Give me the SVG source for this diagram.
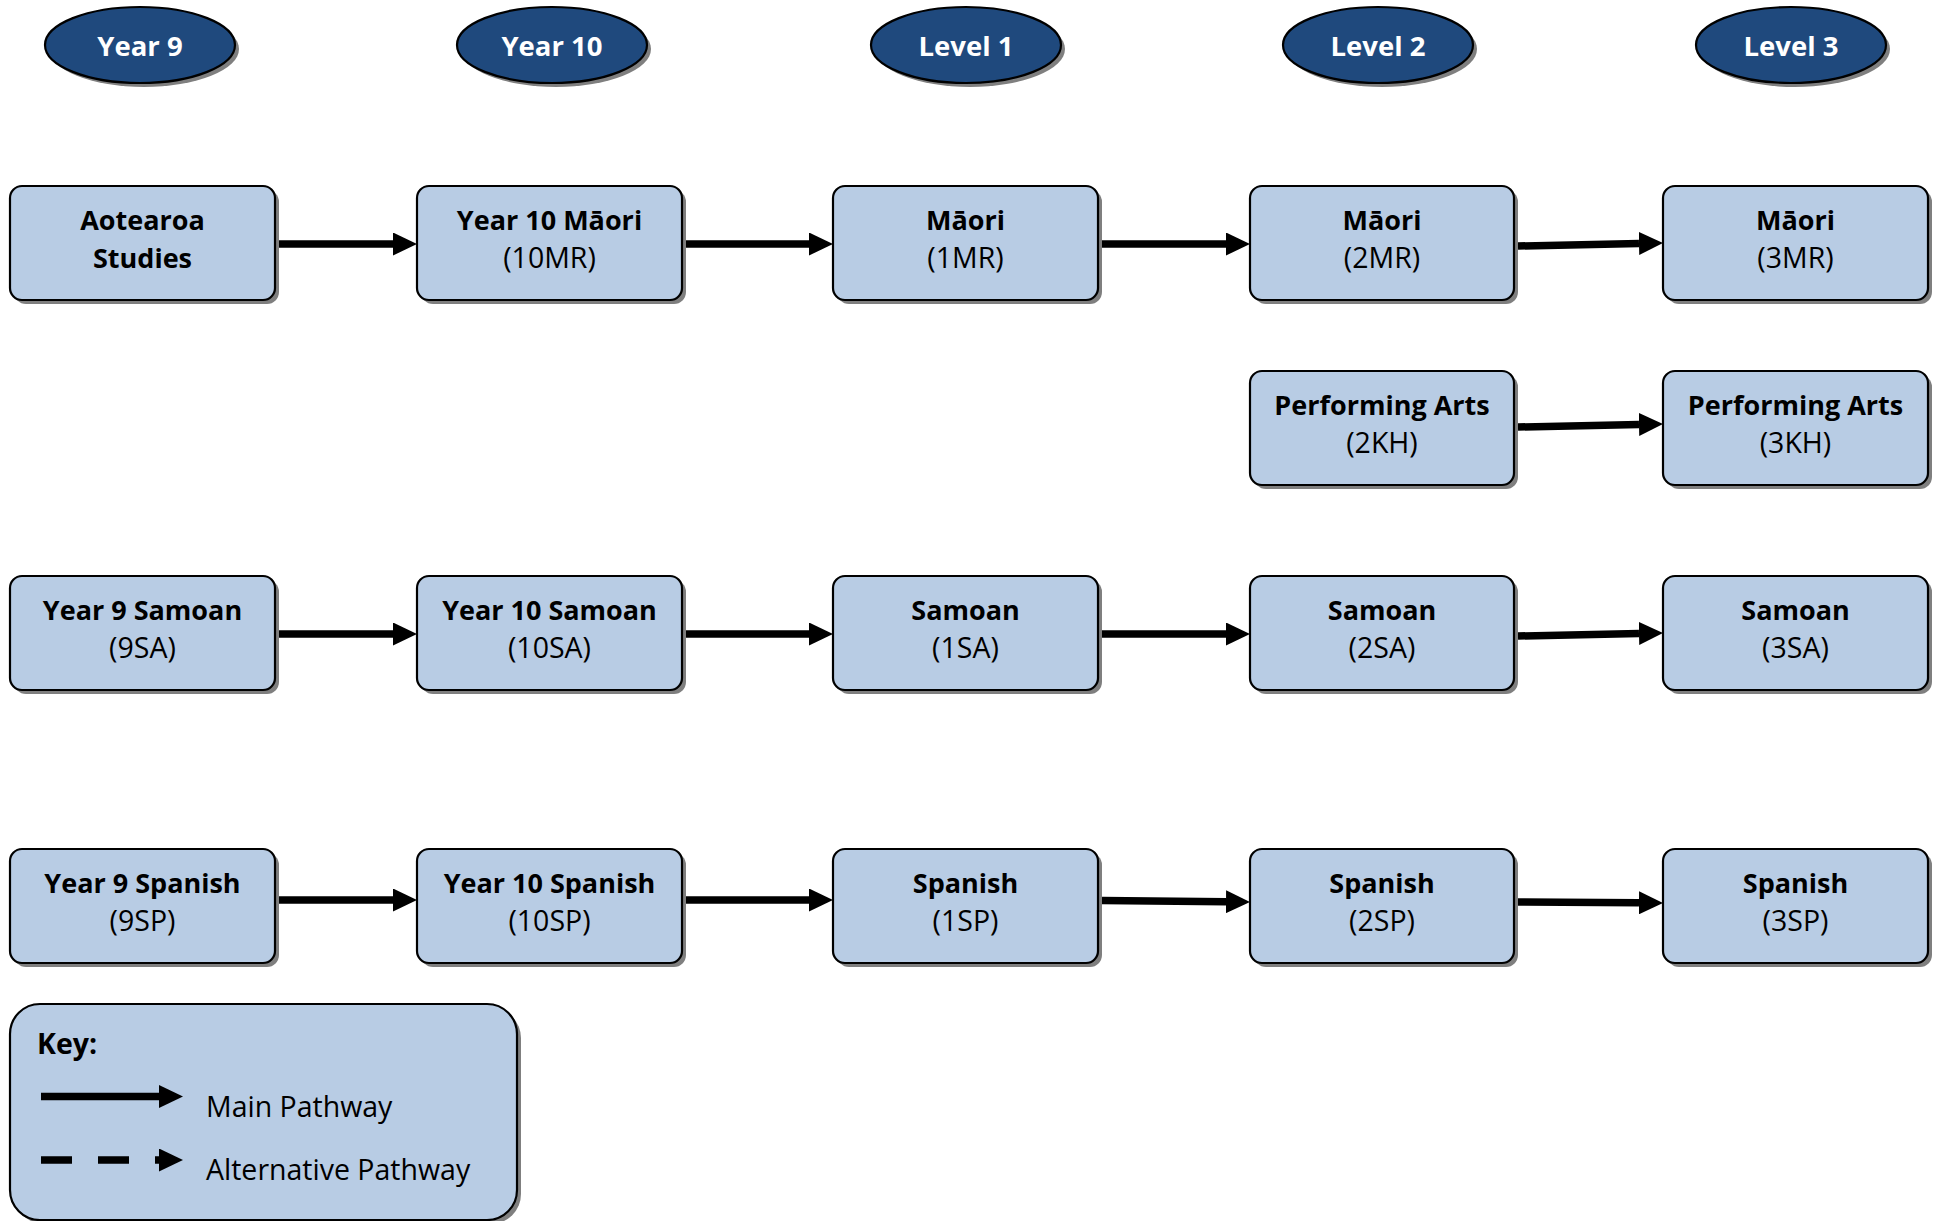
<svg xmlns="http://www.w3.org/2000/svg" width="1941" height="1221" viewBox="0 0 1941 1221">
<style>
  .box { fill: #B8CCE4; stroke: #000; stroke-width: 2.2; }
  .shadow { fill: #7f7f7f; }
  .oval { fill: #1F497D; stroke: #000; stroke-width: 2.2; }
  .t1 { font-family: "Open Sans", "Liberation Sans", sans-serif; font-size: 27px; font-weight: bold; fill: #000; text-anchor: middle; }
  .t2 { font-family: "Open Sans", "Liberation Sans", sans-serif; font-size: 28.5px; fill: #000; text-anchor: middle; }
  .th { font-family: "Open Sans", "Liberation Sans", sans-serif; font-size: 27.5px; font-weight: bold; fill: #fff; text-anchor: middle; }
  .tk { font-family: "Open Sans", "Liberation Sans", sans-serif; font-size: 28.5px; fill: #000; }
  .conn { fill: none; stroke: #000; stroke-width: 7.5; marker-end: url(#arrow); }
</style>
<defs>
  <marker id="arrow" markerUnits="userSpaceOnUse" markerWidth="24" markerHeight="23" refX="0" refY="11.5" orient="auto" viewBox="0 0 24 23">
    <path d="M0,0 L24,11.5 L0,23 z" fill="#000"/>
  </marker>
</defs>
<rect width="1941" height="1221" fill="#fff"/>

<!-- Header ovals -->
<g id="h-year9"><ellipse class="shadow" cx="144" cy="49" rx="95" ry="38"/><ellipse class="oval" cx="140" cy="45" rx="95" ry="38"/><text class="th" x="140" y="56">Year 9</text></g>
<g id="h-year10"><ellipse class="shadow" cx="556" cy="49" rx="95" ry="38"/><ellipse class="oval" cx="552" cy="45" rx="95" ry="38"/><text class="th" x="552" y="56">Year 10</text></g>
<g id="h-level1"><ellipse class="shadow" cx="970" cy="49" rx="95" ry="38"/><ellipse class="oval" cx="966" cy="45" rx="95" ry="38"/><text class="th" x="966" y="56">Level 1</text></g>
<g id="h-level2"><ellipse class="shadow" cx="1382" cy="49" rx="95" ry="38"/><ellipse class="oval" cx="1378" cy="45" rx="95" ry="38"/><text class="th" x="1378" y="56">Level 2</text></g>
<g id="h-level3"><ellipse class="shadow" cx="1795" cy="49" rx="95" ry="38"/><ellipse class="oval" cx="1791" cy="45" rx="95" ry="38"/><text class="th" x="1791" y="56">Level 3</text></g>

<!-- Connectors -->
<g id="connectors">
  <path class="conn" d="M279,244 L393,244"/>
  <path class="conn" d="M686,244 L809,244"/>
  <path class="conn" d="M1102,244 L1226,244"/>
  <path class="conn" d="M1518,246 L1639,243.5"/>
  <path class="conn" d="M1518,427 L1639,424.5"/>
  <path class="conn" d="M279,634 L393,634"/>
  <path class="conn" d="M686,634 L809,634"/>
  <path class="conn" d="M1102,634 L1226,634"/>
  <path class="conn" d="M1518,636 L1639,633.5"/>
  <path class="conn" d="M279,900 L393,900"/>
  <path class="conn" d="M686,900 L809,900"/>
  <path class="conn" d="M1102,900.5 L1226,901.7"/>
  <path class="conn" d="M1518,902 L1639,902.8"/>
</g>

<!-- Row 1 -->
<g id="n-aotearoa"><rect class="shadow" x="14" y="190" width="265" height="114" rx="12"/><rect class="box" x="10" y="186" width="265" height="114" rx="12"/><text class="t1" x="142.5" y="230">Aotearoa</text><text class="t1" x="142.5" y="268">Studies</text></g>
<g id="n-10mr"><rect class="shadow" x="421" y="190" width="265" height="114" rx="12"/><rect class="box" x="417" y="186" width="265" height="114" rx="12"/><text class="t1" x="549.5" y="230">Year 10 Māori</text><text class="t2" x="549.5" y="268">(10MR)</text></g>
<g id="n-1mr"><rect class="shadow" x="837" y="190" width="265" height="114" rx="12"/><rect class="box" x="833" y="186" width="265" height="114" rx="12"/><text class="t1" x="965.5" y="230">Māori</text><text class="t2" x="965.5" y="268">(1MR)</text></g>
<g id="n-2mr"><rect class="shadow" x="1254" y="190" width="264" height="114" rx="12"/><rect class="box" x="1250" y="186" width="264" height="114" rx="12"/><text class="t1" x="1382" y="230">Māori</text><text class="t2" x="1382" y="268">(2MR)</text></g>
<g id="n-3mr"><rect class="shadow" x="1667" y="190" width="265" height="114" rx="12"/><rect class="box" x="1663" y="186" width="265" height="114" rx="12"/><text class="t1" x="1795.5" y="230">Māori</text><text class="t2" x="1795.5" y="268">(3MR)</text></g>

<!-- Row 2 -->
<g id="n-2kh"><rect class="shadow" x="1254" y="375" width="264" height="114" rx="12"/><rect class="box" x="1250" y="371" width="264" height="114" rx="12"/><text class="t1" x="1382" y="415">Performing Arts</text><text class="t2" x="1382" y="453">(2KH)</text></g>
<g id="n-3kh"><rect class="shadow" x="1667" y="375" width="265" height="114" rx="12"/><rect class="box" x="1663" y="371" width="265" height="114" rx="12"/><text class="t1" x="1795.5" y="415">Performing Arts</text><text class="t2" x="1795.5" y="453">(3KH)</text></g>

<!-- Row 3 -->
<g id="n-9sa"><rect class="shadow" x="14" y="580" width="265" height="114" rx="12"/><rect class="box" x="10" y="576" width="265" height="114" rx="12"/><text class="t1" x="142.5" y="620">Year 9 Samoan</text><text class="t2" x="142.5" y="658">(9SA)</text></g>
<g id="n-10sa"><rect class="shadow" x="421" y="580" width="265" height="114" rx="12"/><rect class="box" x="417" y="576" width="265" height="114" rx="12"/><text class="t1" x="549.5" y="620">Year 10 Samoan</text><text class="t2" x="549.5" y="658">(10SA)</text></g>
<g id="n-1sa"><rect class="shadow" x="837" y="580" width="265" height="114" rx="12"/><rect class="box" x="833" y="576" width="265" height="114" rx="12"/><text class="t1" x="965.5" y="620">Samoan</text><text class="t2" x="965.5" y="658">(1SA)</text></g>
<g id="n-2sa"><rect class="shadow" x="1254" y="580" width="264" height="114" rx="12"/><rect class="box" x="1250" y="576" width="264" height="114" rx="12"/><text class="t1" x="1382" y="620">Samoan</text><text class="t2" x="1382" y="658">(2SA)</text></g>
<g id="n-3sa"><rect class="shadow" x="1667" y="580" width="265" height="114" rx="12"/><rect class="box" x="1663" y="576" width="265" height="114" rx="12"/><text class="t1" x="1795.5" y="620">Samoan</text><text class="t2" x="1795.5" y="658">(3SA)</text></g>

<!-- Row 4 -->
<g id="n-9sp"><rect class="shadow" x="14" y="853" width="265" height="114" rx="12"/><rect class="box" x="10" y="849" width="265" height="114" rx="12"/><text class="t1" x="142.5" y="893">Year 9 Spanish</text><text class="t2" x="142.5" y="931">(9SP)</text></g>
<g id="n-10sp"><rect class="shadow" x="421" y="853" width="265" height="114" rx="12"/><rect class="box" x="417" y="849" width="265" height="114" rx="12"/><text class="t1" x="549.5" y="893">Year 10 Spanish</text><text class="t2" x="549.5" y="931">(10SP)</text></g>
<g id="n-1sp"><rect class="shadow" x="837" y="853" width="265" height="114" rx="12"/><rect class="box" x="833" y="849" width="265" height="114" rx="12"/><text class="t1" x="965.5" y="893">Spanish</text><text class="t2" x="965.5" y="931">(1SP)</text></g>
<g id="n-2sp"><rect class="shadow" x="1254" y="853" width="264" height="114" rx="12"/><rect class="box" x="1250" y="849" width="264" height="114" rx="12"/><text class="t1" x="1382" y="893">Spanish</text><text class="t2" x="1382" y="931">(2SP)</text></g>
<g id="n-3sp"><rect class="shadow" x="1667" y="853" width="265" height="114" rx="12"/><rect class="box" x="1663" y="849" width="265" height="114" rx="12"/><text class="t1" x="1795.5" y="893">Spanish</text><text class="t2" x="1795.5" y="931">(3SP)</text></g>

<!-- Key -->
<g id="key">
  <rect class="shadow" x="14" y="1008" width="507" height="216" rx="30"/>
  <rect class="box" x="10" y="1004" width="507" height="216" rx="30"/>
  <text class="tk" x="37" y="1054" font-weight="bold" font-size="27px">Key:</text>
  <path class="conn" d="M41,1096.5 L159,1096.5"/>
  <path class="conn" d="M41,1160 L159,1160" stroke-dasharray="31 26"/>
  <text class="tk" x="206" y="1117">Main Pathway</text>
  <text class="tk" x="206" y="1180">Alternative Pathway</text>
</g>
</svg>
